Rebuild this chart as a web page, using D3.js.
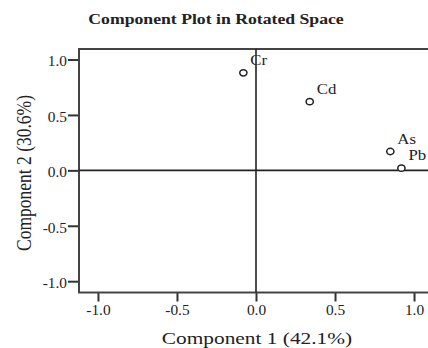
<!DOCTYPE html>
<html>
<head>
<meta charset="utf-8">
<script src="https://cdn.jsdelivr.net/npm/d3@7"></script>
<style>
  html, body { margin: 0; padding: 0; background: #fff; }
  svg { display: block; }
  text { font-family: "Liberation Serif", "Times New Roman", serif; fill: #222; }
</style>
</head>
<body>
<div id="chart"></div>
<script>
// Rotated component loadings for each element
const variables = ["Cr", "Cd", "As", "Pb"];
const component1 = [-0.08, 0.34, 0.85, 0.92];
const component2 = [0.88, 0.62, 0.17, 0.02];
const tickValues = [-1.0, -0.5, 0.0, 0.5, 1.0];
const xTitle = "Component 1 (42.1%)";
const yTitle = "Component 2 (30.6%)";
const chartTitle = "Component Plot in Rotated Space";

const width = 428, height = 348;
const svg = d3.select("#chart").append("svg")
  .attr("width", width).attr("height", height);

// Serif glyphs are drawn slightly wide
const widen = 1.18;

// Replace a text's x/y with a translate so it can be widened about its anchor
function stretch(sel, k) {
  sel.each(function () {
    const t = d3.select(this);
    const tx = +t.attr("x") || 0, ty = +t.attr("y") || 0;
    t.attr("x", 0).attr("y", 0)
      .attr("transform", `translate(${tx},${ty}) scale(${k},1)`);
  });
}

// Tick labels with a plain hyphen for negatives
const fmt = d => d.toFixed(1);

const xDom = [-1.12, 1.12], yDom = [-1.102, 1.095];
const x = d3.scaleLinear().domain(xDom).range([79, 433]);
const y = d3.scaleLinear().domain(yDom).range([292.5, 49]);

// Title
svg.append("text")
  .attr("x", 216).attr("y", 24)
  .attr("text-anchor", "middle")
  .style("font-weight", "bold").style("font-size", "15px")
  .text(chartTitle)
  .call(stretch, widen);

// Axes
const xAxis = svg.append("g")
  .attr("transform", `translate(0,${y(yDom[0])})`)
  .call(d3.axisBottom(x).tickValues(tickValues).tickFormat(fmt)
    .tickSizeOuter(0).tickSize(9).tickPadding(4));
const yAxis = svg.append("g")
  .attr("transform", `translate(${x(xDom[0])},0)`)
  .call(d3.axisLeft(y).tickValues(tickValues).tickFormat(fmt)
    .tickSizeOuter(0).tickSize(11).tickPadding(1));
[xAxis, yAxis].forEach(g => {
  g.select(".domain").remove();
  g.selectAll(".tick line").attr("stroke", "#333").attr("stroke-width", 2);
  g.selectAll(".tick text")
    .style("font-family", "'Liberation Serif', 'Times New Roman', serif")
    .style("font-size", "14px").attr("fill", "#444")
    .call(stretch, 1.1);
});
yAxis.selectAll(".tick text").attr("dy", "0.45em");

// Plot frame
svg.append("rect")
  .attr("x", x(xDom[0])).attr("y", y(yDom[1]))
  .attr("width", x(xDom[1]) - x(xDom[0])).attr("height", y(yDom[0]) - y(yDom[1]))
  .attr("fill", "none").attr("stroke", "#444").attr("stroke-width", 2);

// Reference lines at zero
svg.append("line")
  .attr("x1", x(0)).attr("x2", x(0))
  .attr("y1", y(yDom[1])).attr("y2", y(yDom[0]))
  .attr("stroke", "#222").attr("stroke-width", 1.6);
svg.append("line")
  .attr("x1", x(xDom[0])).attr("x2", x(xDom[1]))
  .attr("y1", y(0)).attr("y2", y(0))
  .attr("stroke", "#222").attr("stroke-width", 1.6);

// Loading points and labels
const pts = variables.map((v, i) => ({ name: v, c1: component1[i], c2: component2[i] }));
const g = svg.append("g");
g.selectAll("ellipse").data(pts).join("ellipse")
  .attr("cx", d => x(d.c1)).attr("cy", d => y(d.c2))
  .attr("rx", 3.6).attr("ry", 3.2)
  .attr("fill", "#fff").attr("stroke", "#222").attr("stroke-width", 1.5);
g.selectAll("text").data(pts).join("text")
  .attr("x", d => x(d.c1) + 7).attr("y", d => y(d.c2) - 8)
  .style("font-size", "15px")
  .text(d => d.name)
  .call(stretch, 1.12);

// Axis titles
svg.append("text")
  .attr("x", 257).attr("y", 344)
  .attr("text-anchor", "middle")
  .style("font-size", "17.5px")
  .text(xTitle)
  .call(stretch, 1.22);
svg.append("text")
  .attr("transform", `translate(31,173) scale(1.18,1) rotate(-90)`)
  .attr("text-anchor", "middle")
  .style("font-size", "17.5px")
  .text(yTitle);
</script>
</body>
</html>
